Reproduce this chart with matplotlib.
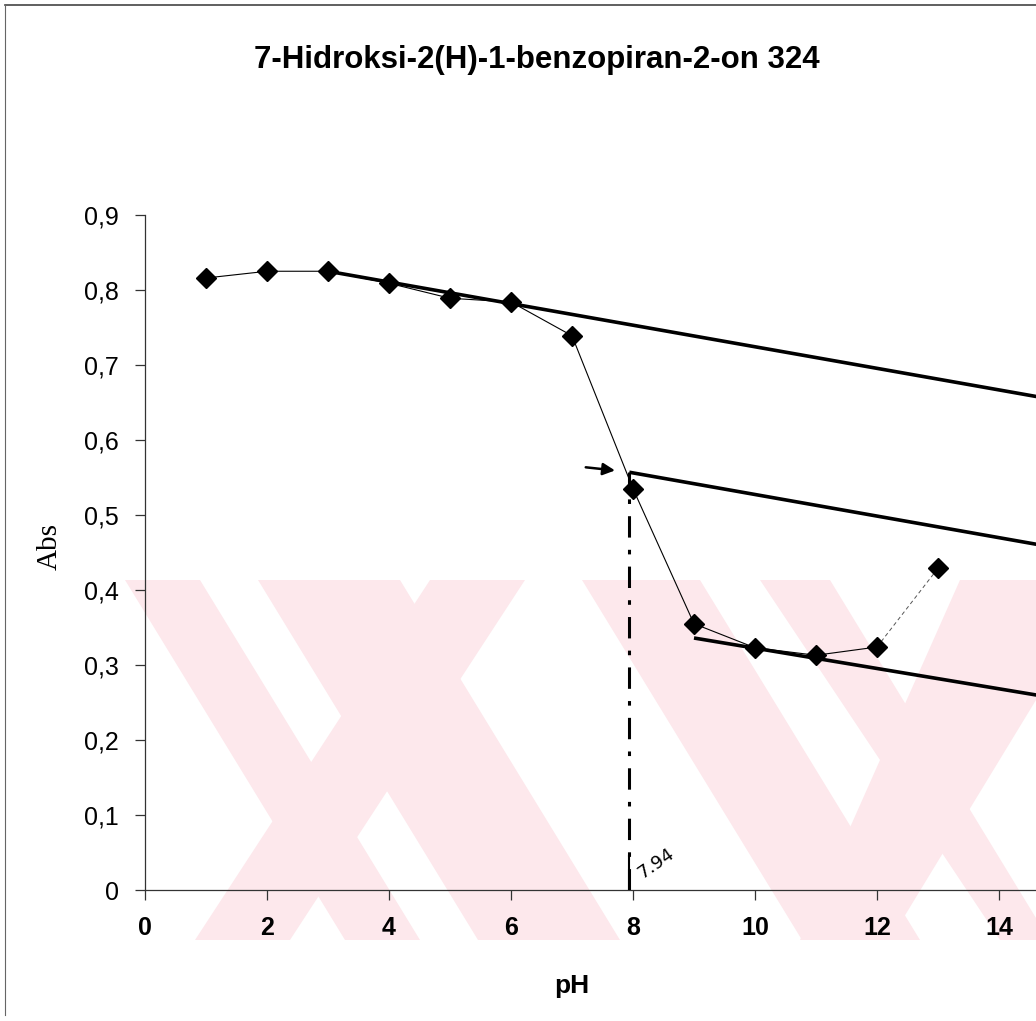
import matplotlib.pyplot as plt
from matplotlib.patches import Polygon
from matplotlib.lines import Line2D

# pH titration, 7-hydroxycoumarin at 324 nm
ph = [1, 2, 3, 4, 5, 6, 7, 8, 9, 10, 11, 12, 13]
absorb = [0.816, 0.825, 0.825, 0.809, 0.789, 0.784, 0.739, 0.535, 0.355, 0.323, 0.313, 0.324, 0.429]

# hand drawn tangents (x, y)
upper_x, upper_y = [3, 14.61], [0.825, 0.658]
middle_x, middle_y = [7.94, 14.61], [0.557, 0.461]
lower_x, lower_y = [9, 14.61], [0.336, 0.260]
pka = 7.94
pka_abs = 0.557

xticks = [0, 2, 4, 6, 8, 10, 12, 14]
yticks = [0, 0.1, 0.2, 0.3, 0.4, 0.5, 0.6, 0.7, 0.8, 0.9]

W, H = 1036, 1021
fig = plt.figure(figsize=(W / 100, H / 100), dpi=100)


def fp(x, y):
    return (x / W, 1 - y / H)


# pink watermark in the background (pixel coords, top-left origin)
pink = '#fde8ec'
shapes = [
    [(125, 580), (200, 580), (420, 940), (345, 940)],
    [(258, 580), (400, 580), (620, 940), (478, 940)],
    [(430, 580), (525, 580), (290, 940), (195, 940)],
    [(582, 580), (700, 580), (920, 940), (802, 940)],
    [(760, 580), (830, 580), (1036, 918), (1036, 940), (1000, 940)],
    [(960, 580), (1036, 580), (1036, 700), (890, 940), (800, 940)],
]
for s in shapes:
    fig.add_artist(Polygon([fp(*p) for p in s], closed=True, facecolor=pink,
                           edgecolor='none', zorder=-5))

# scan border
fig.add_artist(Line2D([5 / W, 1], [1 - 5 / H, 1 - 5 / H], color='#444444', lw=1.2))
fig.add_artist(Line2D([5 / W, 5 / W], [1 - 1015 / H, 1 - 5 / H], color='#666666', lw=0.8))

ax = fig.add_axes([145 / W, 1 - 890 / H, (W - 145) / W, (890 - 215) / H])
ax.patch.set_alpha(0)
ax.set_xlim(0, (W - 145) / 61)
ax.set_ylim(0, 0.9)

ax.plot(ph[:12], absorb[:12], color='black', lw=0.8, marker='D', ms=10, zorder=4)
ax.plot(ph[11:], absorb[11:], color='#555555', lw=0.7, ls=(0, (4, 3)), zorder=3)
ax.plot(ph[12:], absorb[12:], ls='none', marker='D', ms=10, color='black', zorder=4)

for xs, ys in [(upper_x, upper_y), (middle_x, middle_y), (lower_x, lower_y)]:
    ax.plot(xs, ys, color='black', lw=2.6, solid_capstyle='butt', zorder=3)

ax.plot([pka, pka], [0, pka_abs], color='black', lw=2.2, ls=(0, (7, 4, 1.5, 4)), zorder=3)
ax.plot([pka, pka], [0, 0.045], color='black', lw=1.5, zorder=3)
ax.annotate('', xy=(7.75, 0.559), xytext=(7.18, 0.564),
            arrowprops=dict(arrowstyle='-|>', lw=1.8, color='black', mutation_scale=18))
ax.text(pka + 0.08, 0.01, '7.94', fontsize=13, rotation=35, family='DejaVu Sans',
        ha='left', va='bottom')

for side in ['top', 'right']:
    ax.spines[side].set_visible(False)
ax.spines['left'].set_color('#333333')
ax.spines['bottom'].set_color('#333333')
ax.spines['left'].set_linewidth(0.9)
ax.spines['bottom'].set_linewidth(0.9)

ax.set_xticks(xticks)
ax.set_xticklabels([str(t) for t in xticks], fontsize=18, family='Liberation Sans',
                   fontweight='bold')
ax.set_yticks(yticks)
ax.set_yticklabels([('%.1f' % t).replace('.', ',') if t else '0' for t in yticks],
                   fontsize=18, family='Liberation Sans')
ax.tick_params(axis='both', direction='out', length=7, width=0.9, color='#333333')
ax.tick_params(axis='x', pad=12)
ax.tick_params(axis='y', pad=12)

fig.text(537 / W, 1 - 68 / H, '7-Hidroksi-2(H)-1-benzopiran-2-on 324', fontsize=22.5,
         fontweight='bold', family='Liberation Sans', ha='center', va='baseline')
fig.text(572 / W, 1 - 986 / H, 'pH', fontsize=19, fontweight='bold',
         family='Liberation Sans', ha='center', va='center')
fig.text(50 / W, 1 - 547 / H, 'Abs', fontsize=21, family='Liberation Serif',
         rotation=90, ha='center', va='center')

fig.savefig('out.png', dpi=100)
